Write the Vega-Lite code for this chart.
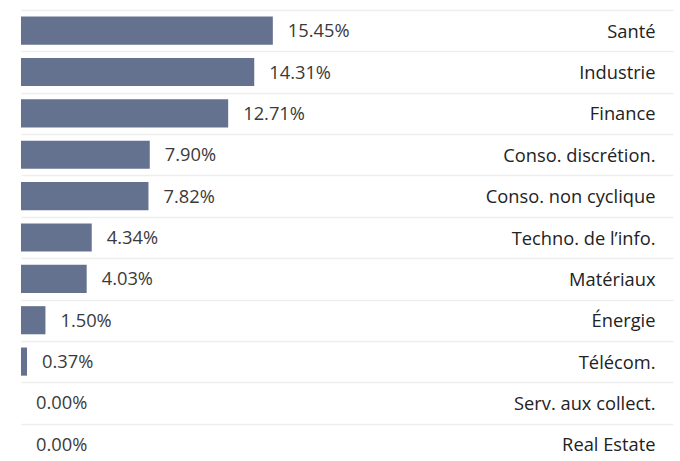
{
  "$schema": "https://vega.github.io/schema/vega-lite/v6.json",
  "autosize": {"type": "none"},
  "width": 652,
  "height": 455,
  "padding": {"top": 10, "left": 21, "right": 7, "bottom": 0},
  "background": "white",
  "config": {
    "view": {"stroke": null},
    "font": "Open Sans",
    "axis": {"labelFont": "Open Sans"}
  },
  "data": {
    "values": [
      {"sector": "Santé", "weight": 0.1545},
      {"sector": "Industrie", "weight": 0.1431},
      {"sector": "Finance", "weight": 0.1271},
      {"sector": "Conso. discrétion.", "weight": 0.079},
      {"sector": "Conso. non cyclique", "weight": 0.0782},
      {"sector": "Techno. de l’info.", "weight": 0.0434},
      {"sector": "Matériaux", "weight": 0.0403},
      {"sector": "Énergie", "weight": 0.015},
      {"sector": "Télécom.", "weight": 0.0037},
      {"sector": "Serv. aux collect.", "weight": 0},
      {"sector": "Real Estate", "weight": 0}
    ]
  },
  "encoding": {
    "y": {
      "field": "sector",
      "type": "nominal",
      "sort": null,
      "scale": {"paddingInner": 0, "paddingOuter": 0},
      "axis": {
        "orient": "right",
        "title": null,
        "domain": false,
        "ticks": false,
        "grid": true,
        "tickBand": "extent",
        "gridColor": "#eeeeee",
        "gridWidth": 1.5,
        "labelAlign": "right",
        "labelBaseline": "middle",
        "labelPadding": -18,
        "labelOffset": 1.5,
        "labelFontSize": 18.3,
        "labelColor": "#222222"
      }
    },
    "x": {
      "field": "weight",
      "type": "quantitative",
      "scale": {"domain": [0, 0.4]},
      "axis": null
    }
  },
  "layer": [
    {
      "mark": {"type": "bar", "color": "#65728f", "height": {"band": 0.68}}
    },
    {
      "mark": {
        "type": "text",
        "align": "left",
        "baseline": "middle",
        "dx": 15,
        "dy": 1.5,
        "fontSize": 18.3,
        "color": "#3a3a3a"
      },
      "encoding": {
        "text": {"field": "weight", "type": "quantitative", "format": ".2%"}
      }
    }
  ]
}
